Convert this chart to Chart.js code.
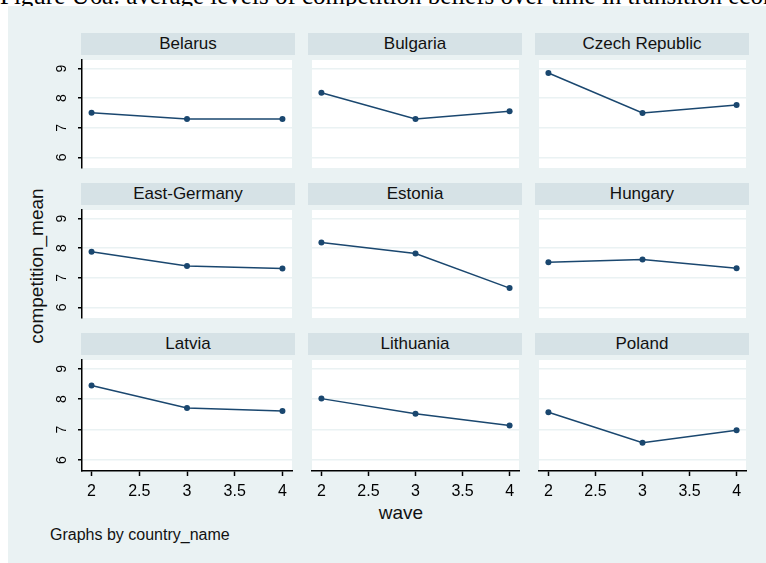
<!DOCTYPE html>
<html>
<head>
<meta charset="utf-8">
<script src="https://cdn.jsdelivr.net/npm/chart.js@4.4.1/dist/chart.umd.min.js"></script>
<style>
  html, body { margin: 0; padding: 0; background: #ffffff; }
  #root { position: relative; width: 766px; height: 563px; overflow: hidden; background: #ffffff;
          font-family: "Liberation Sans", Arial, sans-serif; }
  #caption { position: absolute; left: 0; top: -17px; white-space: nowrap; font-family: "Liberation Serif", "Times New Roman", serif;
             font-size: 25px; line-height: 25px; color: #000; }
  #bg { position: absolute; left: 8px; top: 6px; right: 0; bottom: 0; background: #eaf2f3; }
  .strip { position: absolute; background: #d6e2e6; color: #111; font-size: 17px; text-align: center; line-height: 22px; height: 22px; }
  .panel { position: absolute; }
  .txt { position: absolute; color: #111; white-space: nowrap; }
</style>
</head>
<body>
<div id="root">
  <div id="caption">Figure U6a: average levels of competition beliefs over time in transition economies</div>
  <div id="bg"></div>
  <div class="txt" id="ytitle" style="font-size:19px; left:37px; top:266px; transform: translate(-50%,-50%) rotate(-90deg);">competition_mean</div>
  <div class="txt" id="xtitle" style="font-size:19px; left:401px; top:513px; transform: translate(-50%,-50%);">wave</div>
  <div class="txt" id="note" style="font-size:16px; left:50px; top:535px; transform: translate(0,-50%);">Graphs by country_name</div>
</div>
<script>
// ---- data ----
const waves = [2, 3, 4];
const countries = ['Belarus', 'Bulgaria', 'Czech Republic', 'East-Germany', 'Estonia', 'Hungary', 'Latvia', 'Lithuania', 'Poland'];
const belarus     = [7.51, 7.30, 7.30];
const bulgaria    = [8.18, 7.30, 7.56];
const czech       = [8.85, 7.50, 7.77];
const eastGermany = [7.88, 7.40, 7.31];
const estonia     = [8.19, 7.82, 6.65];
const hungary     = [7.52, 7.62, 7.32];
const latvia      = [8.45, 7.71, 7.61];
const lithuania   = [8.02, 7.52, 7.14];
const poland      = [7.57, 6.57, 6.98];
const yTickValues = [6, 7, 8, 9];
const xTickValues = [2, 2.5, 3, 3.5, 4];

const seriesList = [belarus, bulgaria, czech, eastGermany, estonia, hungary, latvia, lithuania, poland];

// ---- layout ----
const colLeft = [82, 309, 536];
const plotW = 213;
const rowTop = [57, 207, 357];
const plotH = 114;
const stripGap = 24;
const yAxisW = 42;
const xAxisH = 34;
const Y_MIN = 5.64, Y_MAX = 9.29, X_MIN = 1.9, X_MAX = 4.1;

const navy = '#1a476f';
const root = document.getElementById('root');

const whiteArea = {
  id: 'whiteArea',
  beforeDraw(chart) {
    const a = chart.chartArea, ctx = chart.ctx;
    ctx.save();
    ctx.fillStyle = '#ffffff';
    ctx.fillRect(a.left, a.top, a.right - a.left, a.bottom - a.top);
    ctx.restore();
  }
};

countries.forEach((name, i) => {
  const r = Math.floor(i / 3), c = i % 3;
  const showY = c === 0, showX = r === 2;

  const strip = document.createElement('div');
  strip.className = 'strip';
  strip.style.left = (colLeft[c] - 1) + 'px';
  strip.style.top = (rowTop[r] - stripGap) + 'px';
  strip.style.width = (plotW + 1) + 'px';
  strip.textContent = name;
  root.appendChild(strip);

  const cv = document.createElement('canvas');
  const w = plotW + (showY ? yAxisW : 0);
  const h = plotH + (showX ? xAxisH : 0);
  cv.width = w; cv.height = h;
  cv.className = 'panel';
  cv.style.left = (colLeft[c] - (showY ? yAxisW : 0)) + 'px';
  cv.style.top = rowTop[r] + 'px';
  cv.style.width = w + 'px'; cv.style.height = h + 'px';
  root.appendChild(cv);

  const vals = seriesList[i];
  new Chart(cv.getContext('2d'), {
    type: 'line',
    data: {
      datasets: [{
        data: waves.map((wv, j) => ({ x: wv, y: vals[j] })),
        borderColor: navy,
        backgroundColor: navy,
        borderWidth: 1.5,
        pointRadius: 3,
        pointBackgroundColor: navy,
        pointBorderWidth: 0,
        pointHoverRadius: 3,
        tension: 0,
        fill: false
      }]
    },
    options: {
      responsive: false,
      animation: false,
      devicePixelRatio: 1,
      events: [],
      layout: { padding: 0 },
      plugins: { legend: { display: false }, title: { display: false }, tooltip: { enabled: false } },
      scales: {
        x: {
          type: 'linear',
          min: X_MIN, max: X_MAX,
          display: showX,
          afterBuildTicks: s => { s.ticks = xTickValues.map(v => ({ value: v })); },
          afterFit: s => { s.height = showX ? xAxisH : 0; s.paddingLeft = 0; s.paddingRight = 0; },
          grid: { display: true, drawOnChartArea: false, drawTicks: true, tickLength: 5, tickColor: '#000', tickWidth: 1.5 },
          border: { display: true, color: '#000', width: 1.5 },
          ticks: {
            autoSkip: false, maxRotation: 0, minRotation: 0, padding: 6, color: '#000',
            font: { family: '"Liberation Sans", Arial, sans-serif', size: 16 },
            callback: v => String(v)
          }
        },
        y: {
          type: 'linear',
          min: Y_MIN, max: Y_MAX,
          display: true,
          afterBuildTicks: s => { s.ticks = yTickValues.map(v => ({ value: v })); },
          afterFit: s => { s.width = showY ? yAxisW : 0; s.paddingTop = 0; s.paddingBottom = 0; },
          grid: { display: true, drawOnChartArea: true, drawTicks: showY, tickLength: 4, color: '#eaf2f3', lineWidth: 1.5, tickColor: '#000', tickWidth: 1.5 },
          border: { display: showY, color: '#000', width: 1.5 },
          ticks: {
            display: showY, autoSkip: false, minRotation: 90, maxRotation: 90, crossAlign: 'center', padding: 12, color: '#000',
            font: { family: '"Liberation Sans", Arial, sans-serif', size: 14 },
            callback: v => String(v)
          }
        }
      }
    },
    plugins: [whiteArea]
  });
});
</script>
</body>
</html>
